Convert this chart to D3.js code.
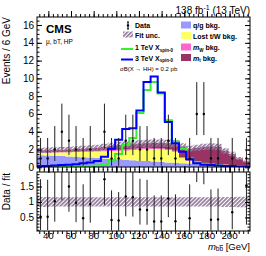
<!DOCTYPE html>
<html>
<head>
<meta charset="utf-8">
<script src="https://cdn.jsdelivr.net/npm/d3@7"></script>
<style>
body { margin: 0; background: #fff; }
text { font-family: "Liberation Sans", Arial, sans-serif; fill: #000; }
</style>
</head>
<body>
<svg id="chart" width="266" height="256"></svg>
<script>
// m_bb axis 30-218 GeV, 30 equal bins
var xMin = 30, xMax = 218, nBins = 30;
var binW = (xMax - xMin) / nBins;
var binEdges = d3.range(nBins + 1).map(function (i) { return xMin + i * binW; });

// background stack (events / bin)
var qgBkg   = [1.35,1.32,1.29,1.26,1.22,1.18,1.14,1.10,1.05,1.00,0.95,0.90,0.85,0.80,0.75,0.70,0.65,0.60,0.55,0.50,0.46,0.42,0.38,0.34,0.31,0.28,0.25,0.22,0.19,0.16];
var lostBkg = [0.30,0.33,0.37,0.42,0.47,0.53,0.60,0.66,0.72,0.80,0.88,0.95,1.05,1.15,1.25,1.35,1.40,1.42,1.40,1.25,0.60,0.30,0.15,0.10,0.07,0.05,0.04,0.03,0.02,0.01];
var mWBkg   = [0.04,0.04,0.05,0.05,0.06,0.07,0.08,0.09,0.10,0.11,0.12,0.13,0.14,0.14,0.14,0.14,0.13,0.12,0.11,0.10,0.08,0.06,0.05,0.04,0.03,0.03,0.02,0.02,0.01,0.01];
var mtBkg   = [0.21,0.23,0.24,0.25,0.25,0.27,0.28,0.30,0.33,0.39,0.45,0.52,0.51,0.51,0.51,0.51,0.54,0.58,0.64,0.80,1.21,1.32,1.62,1.82,1.94,1.94,1.54,1.23,0.78,0.47];
var fitUncRel = [0.16,0.16,0.15,0.15,0.15,0.15,0.15,0.15,0.15,0.15,0.15,0.15,0.15,0.15,0.15,0.15,0.15,0.15,0.15,0.15,0.15,0.15,0.15,0.15,0.15,0.15,0.16,0.16,0.17,0.17];

// signals (sigma*B = 0.2 pb)
var sig1TeV = [0.00,0.00,0.00,0.00,0.00,0.02,0.05,0.10,0.20,0.35,0.70,1.50,2.50,3.30,6.10,8.70,9.60,8.30,5.30,2.90,2.10,1.00,0.60,0.40,0.30,0.20,0.15,0.10,0.10,0.05];
var sig3TeV = [0.15,0.15,0.20,0.25,0.30,0.35,0.45,0.55,0.70,1.20,2.10,3.10,4.30,4.40,6.40,9.60,10.2,8.40,5.10,2.70,1.75,0.90,0.45,0.30,0.25,0.20,0.15,0.15,0.10,0.10];

// observed events (empty bins are not drawn)
var dataCounts = [1,1,2,4,3,2,1,2,0,4,1,1,3,3,2,2,1,1,3,1,0,1,6,6,1,1,0,1,0,1];
// Garwood 68% intervals (down, up) for n = 0..8
var poisDn = [0,0.827,1.292,1.633,1.914,2.160,2.380,2.581,2.768];
var poisUp = [1.841,2.300,2.638,2.918,3.163,3.382,3.584,3.770,3.945];

var xTicks = [40,60,80,100,120,140,160,180,200];
var yTicks = [0,2,4,6,8,10,12,14,16];
var rTicks = [0.5,1,1.5];

var left = 37, right = 250, mainTop = 17, mainBot = 167, ratTop = 172, ratBot = 231;

var svg = d3.select("#chart");
var x = d3.scaleLinear().domain([xMin, xMax]).range([left, right]);
var y = d3.scaleLinear().domain([0, 16.87]).range([167.3, 17.3]);
var yr = d3.scaleLinear().domain([0.06, 1.97]).range([ratBot, ratTop]);

var defs = svg.append("defs");
defs.append("pattern")
    .attr("id", "hatch")
    .attr("patternUnits", "userSpaceOnUse")
    .attr("width", 2.8).attr("height", 2.8)
    .attr("patternTransform", "rotate(45)")
  .append("rect")
    .attr("width", 1.7).attr("height", 2.8)
    .attr("fill", "#957a9f");
["clipMain", "clipRat"].forEach(function (id, k) {
  defs.append("clipPath").attr("id", id).append("rect")
    .attr("x", left).attr("width", right - left)
    .attr("y", k ? ratTop : mainTop)
    .attr("height", k ? ratBot - ratTop : mainBot - mainTop);
});

// per-bin objects with one extra closing point for step curves
var bins = binEdges.map(function (e, i) {
  var j = Math.min(i, nBins - 1);
  return {
    edge: e, qg: qgBkg[j], lost: lostBkg[j], mW: mWBkg[j], mt: mtBkg[j],
    s1: sig1TeV[j], s3: sig3TeV[j], unc: fitUncRel[j]
  };
});
bins.forEach(function (d) { d.total = d.qg + d.lost + d.mW + d.mt; });

var keys = ["qg", "lost", "mW", "mt"];
var colors = {qg: "#9999ff", lost: "#ffff66", mW: "#ff66cc", mt: "#993366"};
var series = d3.stack().keys(keys)(bins);

var main = svg.append("g").attr("clip-path", "url(#clipMain)");
var area = d3.area().curve(d3.curveStepAfter)
    .x(function (d) { return x(d.data.edge); })
    .y0(function (d) { return y(d[0]); })
    .y1(function (d) { return y(d[1]); });

main.selectAll("path.stack")
  .data(series)
  .enter().append("path")
    .attr("class", "stack")
    .attr("d", area)
    .attr("fill", function (d) { return colors[d.key]; });

// fit uncertainty band
main.append("path")
  .datum(bins)
  .attr("d", d3.area().curve(d3.curveStepAfter)
    .x(function (d) { return x(d.edge); })
    .y0(function (d) { return y(d.total * (1 - d.unc)); })
    .y1(function (d) { return y(d.total * (1 + d.unc)); }))
  .attr("fill", "url(#hatch)");

// signal lines
var stepLine = function (key) {
  return d3.line().curve(d3.curveStepAfter)
    .x(function (d) { return x(d.edge); })
    .y(function (d) { return y(d[key]); });
};
main.append("path").datum(bins).attr("d", stepLine("s1"))
  .attr("fill", "none").attr("stroke", "#33ee33").attr("stroke-width", 2);
main.append("path").datum(bins).attr("d", stepLine("s3"))
  .attr("fill", "none").attr("stroke", "#0000ff").attr("stroke-width", 2);

// data points
var pts = dataCounts.map(function (n, i) {
  return {
    c: binEdges[i] + binW / 2, n: n,
    lo: n - poisDn[n], hi: n + poisUp[n],
    tot: bins[i].total
  };
}).filter(function (d) { return d.n > 0; });

main.selectAll("line.err").data(pts).enter().append("line")
  .attr("x1", function (d) { return x(d.c); }).attr("x2", function (d) { return x(d.c); })
  .attr("y1", function (d) { return y(d.lo); }).attr("y2", function (d) { return y(d.hi); })
  .attr("stroke", "#222").attr("stroke-width", 1);
main.selectAll("circle.pt").data(pts).enter().append("circle")
  .attr("cx", function (d) { return x(d.c); }).attr("cy", function (d) { return y(d.n); })
  .attr("r", 1.2).attr("fill", "#000");

// ratio panel
var rat = svg.append("g").attr("clip-path", "url(#clipRat)");
rat.append("path")
  .datum(bins)
  .attr("d", d3.area().curve(d3.curveStepAfter)
    .x(function (d) { return x(d.edge); })
    .y0(function (d) { return yr(1 - d.unc); })
    .y1(function (d) { return yr(1 + d.unc); }))
  .attr("fill", "url(#hatch)");
rat.selectAll("line.rerr").data(pts).enter().append("line")
  .attr("x1", function (d) { return x(d.c); }).attr("x2", function (d) { return x(d.c); })
  .attr("y1", function (d) { return yr(d.lo / d.tot); }).attr("y2", function (d) { return yr(d.hi / d.tot); })
  .attr("stroke", "#222").attr("stroke-width", 1);
rat.selectAll("circle.rpt").data(pts).enter().append("circle")
  .attr("cx", function (d) { return x(d.c); }).attr("cy", function (d) { return yr(d.n / d.tot); })
  .attr("r", 1.2).attr("fill", "#000");

// frames and ticks (ROOT style, ticks inside on all sides)
function frame(top, bot, ys, major, minor) {
  svg.append("rect").attr("x", left).attr("y", top)
    .attr("width", right - left).attr("height", bot - top)
    .attr("fill", "none").attr("stroke", "#000").attr("stroke-width", 1);
  var xMinor = d3.range(32, xMax, 4);
  [[bot, -1], [top, 1]].forEach(function (p) {
    svg.append("g").attr("transform", "translate(0," + p[0] + ")")
      .call(d3.axisBottom(x).tickValues(xTicks).tickSize(-6 * p[1]).tickFormat(""))
      .call(function (g) { g.select(".domain").remove(); });
    svg.append("g").attr("transform", "translate(0," + p[0] + ")")
      .call(d3.axisBottom(x).tickValues(xMinor).tickSize(-3 * p[1]).tickFormat(""))
      .call(function (g) { g.select(".domain").remove(); });
  });
  [[left, 1], [right, -1]].forEach(function (p) {
    var ax = p[1] > 0 ? d3.axisLeft(ys) : d3.axisRight(ys);
    var ax2 = p[1] > 0 ? d3.axisLeft(ys) : d3.axisRight(ys);
    svg.append("g").attr("transform", "translate(" + p[0] + ",0)")
      .call(ax.tickValues(major).tickSize(-5).tickFormat(""))
      .call(function (g) { g.select(".domain").remove(); });
    svg.append("g").attr("transform", "translate(" + p[0] + ",0)")
      .call(ax2.tickValues(minor).tickSize(-2.5).tickFormat(""))
      .call(function (g) { g.select(".domain").remove(); });
  });
}
frame(mainTop, mainBot, y, yTicks, d3.range(0, 16.85, 0.5));
frame(ratTop, ratBot, yr, rTicks, d3.range(0.1, 1.95, 0.1));

// tick labels
svg.selectAll("text.yl").data(yTicks).enter().append("text")
  .attr("x", left - 3).attr("y", function (d) { return y(d) + 3.5; })
  .attr("text-anchor", "end").attr("font-size", 10).text(function (d) { return d; });
svg.selectAll("text.rl").data(rTicks).enter().append("text")
  .attr("x", left - 3).attr("y", function (d) { return yr(d) + 3.5; })
  .attr("text-anchor", "end").attr("font-size", 10).text(function (d) { return d; });
svg.selectAll("text.xl").data(xTicks).enter().append("text")
  .attr("x", function (d) { return x(d); }).attr("y", 239)
  .attr("text-anchor", "middle").attr("font-size", 9.8).text(function (d) { return d; });

// axis titles
svg.append("text").attr("transform", "translate(10," + mainTop + ") rotate(-90)")
  .attr("text-anchor", "end").attr("font-size", 10).text("Events / 6 GeV");
svg.append("text").attr("transform", "translate(10," + (ratTop + 1) + ") rotate(-90)")
  .attr("text-anchor", "end").attr("font-size", 10).text("Data / fit");
var xt = svg.append("text").attr("x", right).attr("y", 249.5)
  .attr("text-anchor", "end").attr("font-size", 9.5);
xt.append("tspan").attr("font-style", "italic").text("m");
xt.append("tspan").attr("font-size", 6.5).attr("dy", 1.5).text("b");
xt.append("tspan").attr("font-size", 6.5).attr("text-decoration", "overline").text("b");
xt.append("tspan").attr("dy", -1.5).text(" [GeV]");

// header
var lum = svg.append("text").attr("x", right).attr("y", 14)
  .attr("text-anchor", "end").attr("font-size", 10);
lum.append("tspan").text("138 fb");
lum.append("tspan").attr("font-size", 7).attr("dy", -4).text("-1");
lum.append("tspan").attr("dy", 4).text(" (13 TeV)");

svg.append("text").attr("x", 46).attr("y", 33).attr("font-size", 11.5)
  .attr("font-weight", "bold").text("CMS");
svg.append("text").attr("x", 46).attr("y", 44).attr("font-size", 6.5)
  .text("\u03bc, bT, HP");

// legend, left column
var lg = svg.append("g").attr("font-size", 7);
lg.append("line").attr("x1", 128).attr("x2", 128).attr("y1", 22).attr("y2", 29)
  .attr("stroke", "#000").attr("stroke-width", 1);
lg.append("circle").attr("cx", 128).attr("cy", 25.5).attr("r", 1.2);
[[127, 22], [127, 29]].forEach(function (p) {
  lg.append("line").attr("x1", p[0]).attr("x2", p[0] + 2).attr("y1", p[1]).attr("y2", p[1]).attr("stroke", "#000");
});
lg.append("text").attr("x", 135).attr("y", 28).attr("font-weight", "bold").text("Data");
lg.append("rect").attr("x", 123).attr("y", 31.5).attr("width", 10).attr("height", 6).attr("fill", "url(#hatch)");
lg.append("text").attr("x", 135).attr("y", 38).attr("font-weight", "bold").text("Fit unc.");
lg.append("line").attr("x1", 121).attr("x2", 133).attr("y1", 49).attr("y2", 49)
  .attr("stroke", "#33ee33").attr("stroke-width", 2);
var t1 = lg.append("text").attr("x", 135).attr("y", 50).attr("font-weight", "bold");
t1.append("tspan").text("1 TeV X");
t1.append("tspan").attr("font-size", 4.5).attr("dy", 1.5).text("spin-0");
lg.append("line").attr("x1", 121).attr("x2", 133).attr("y1", 59.5).attr("y2", 59.5)
  .attr("stroke", "#0000ff").attr("stroke-width", 2);
var t3 = lg.append("text").attr("x", 135).attr("y", 60.5).attr("font-weight", "bold");
t3.append("tspan").text("3 TeV X");
t3.append("tspan").attr("font-size", 4.5).attr("dy", 1.5).text("spin-0");
lg.append("text").attr("x", 120).attr("y", 71).attr("font-size", 6)
  .text("\u03c3B(X \u2192 HH) = 0.2 pb");

// legend, right column
var rl = [["q/g bkg.", "qg", 28], ["Lost t/W bkg.", "lost", 38.5], ["mW", "mW", 50], ["mt", "mt", 60.5]];
rl.forEach(function (r) {
  lg.append("rect").attr("x", 181).attr("y", r[2] - 6.5).attr("width", 10).attr("height", 7)
    .attr("fill", colors[r[1]]);
  var t = lg.append("text").attr("x", 193).attr("y", r[2]).attr("font-weight", "bold");
  if (r[0] === "mW" || r[0] === "mt") {
    t.append("tspan").attr("font-style", "italic").text("m");
    t.append("tspan").attr("font-size", 4.5).attr("dy", 1.5).text(r[0] === "mW" ? "W" : "t");
    t.append("tspan").attr("dy", -1.5).text(" bkg.");
  } else {
    t.text(r[0]);
  }
});
</script>
</body>
</html>
